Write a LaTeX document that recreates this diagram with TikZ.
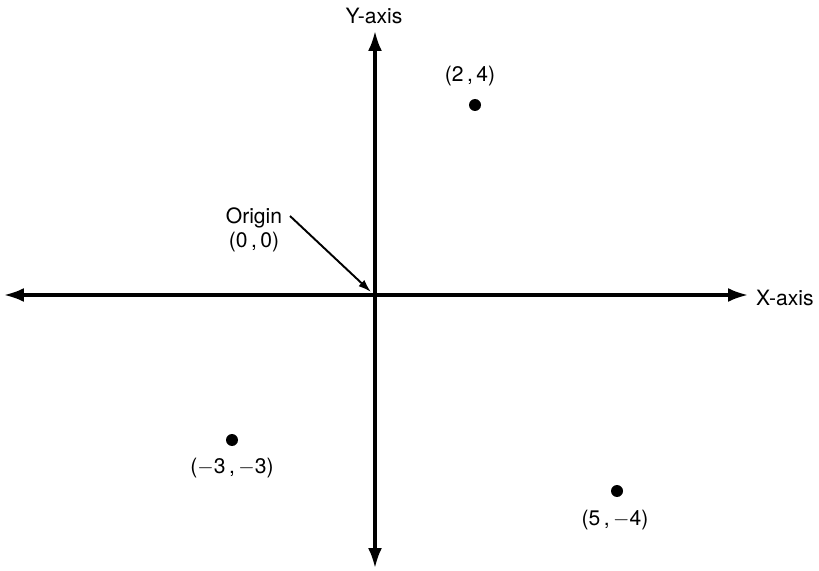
\documentclass[tikz,border=0pt]{standalone}
\usepackage{fontspec}
\setmainfont{TeX Gyre Heros}
\usetikzlibrary{arrows.meta,positioning}

\begin{document}
\begin{tikzpicture}[
    x=0.02cm, y=-0.02cm,
    axis/.style={draw, line width=1.8pt, {Latex[length=0.4cm,width=0.28cm]}-{Latex[length=0.4cm,width=0.28cm]}},
    pt/.style={circle, fill=black, inner sep=0pt, minimum size=0.24cm},
    lbl/.style={font=\fontsize{12}{14}\selectfont, inner sep=1pt, align=center},
    pointer/.style={draw, line width=1.1pt, -{Latex[length=0.26cm,width=0.17cm]}}
]
    \useasboundingbox (0,0) rectangle (819,571);

    % axes
    \coordinate (o)    at (375,295);
    \coordinate (xneg) at (4,295);
    \coordinate (xpos) at (748,295);
    \coordinate (ytop) at (375,31);
    \coordinate (ybot) at (375,568);
    \path [axis] (xneg) -- (xpos);
    \path [axis] (ybot) -- (ytop);
    \node [lbl, anchor=west] (xlab) at (754,298) {X-axis};
    \node [lbl] (ylab) at (374,16) {Y-axis};

    % origin
    \node [lbl] (orig) at (254,230) {Origin\\(0\,,\,0)};
    \coordinate (otip) at (371,292);
    \path [pointer] (290,216) -- (otip);

    % points
    \node [pt] (p1) at (475,105) {};
    \node [lbl] (p1l) at (470,76) {(2\,,\,4)};
    \node [pt] (p2) at (232,440) {};
    \node [lbl] (p2l) at (232,468) {($-$3\,,\,$-$3)};
    \node [pt] (p3) at (617,491) {};
    \node [lbl] (p3l) at (615,520) {(5\,,\,$-$4)};
\end{tikzpicture}
\end{document}
